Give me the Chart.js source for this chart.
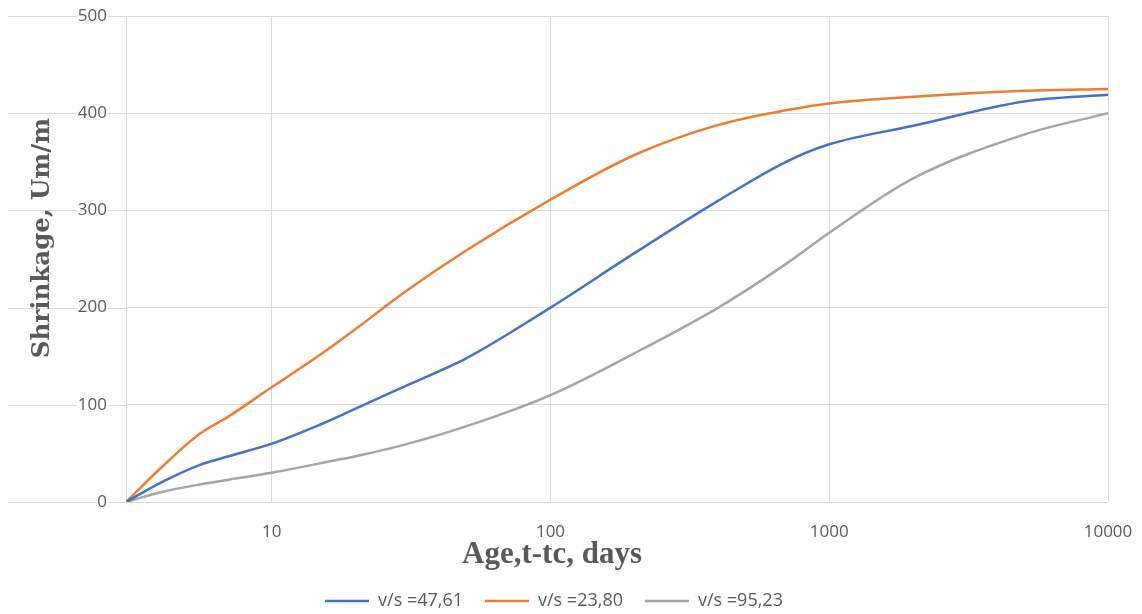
<!DOCTYPE html>
<html>
<head>
<meta charset="utf-8">
<script src="https://cdn.jsdelivr.net/npm/chart.js@4.4.1/dist/chart.umd.min.js"></script>
<style>
  html, body { margin: 0; padding: 0; background: #fff; }
  #wrap { width: 1142px; height: 614px; position: relative; }
</style>
</head>
<body>
<div id="wrap"><canvas id="c" width="1142" height="614"></canvas></div>
<script>
// Age t-tc (days)
const days = [3, 4, 5.5, 7, 10, 15, 20, 30, 50, 100, 200, 400, 700, 1000, 2000, 5000, 10000];
// Shrinkage (Um/m) per series
const vs4761 = [0, 20, 38, 47, 60, 80, 96, 119, 148, 200, 256, 310, 350, 368, 387, 412, 419];
const vs2380 = [0, 35, 70, 88, 118, 152, 178, 216, 259, 311, 357, 388, 403, 410, 417, 423, 425];
const vs9523 = [0, 10, 18, 23, 30, 40, 47, 59, 78, 110, 153, 200, 245, 277, 333, 378, 400];
const seriesNames = ['v/s =47,61', 'v/s =23,80', 'v/s =95,23'];
const xTicks = [3, 10, 100, 1000, 10000];
const yTicks = [0, 100, 200, 300, 400, 500];
const xTitle = 'Age,t-tc, days';
const yTitle = 'Shrinkage, Um/m';

const colors = ['#4472C4', '#ED7D31', '#A5A5A5'];
const toPts = arr => days.map((d, i) => ({ x: d, y: arr[i] }));

const extGrid = {
  id: 'extGrid',
  beforeDraw(chart) {
    const { ctx, chartArea, scales } = chart;
    const y = scales.y;
    ctx.save();
    ctx.strokeStyle = '#d9d9d9';
    ctx.lineWidth = 1;
    y.ticks.forEach(t => {
      const py = Math.round(y.getPixelForValue(t.value)) + 0.5;
      ctx.beginPath();
      ctx.moveTo(8, py);
      ctx.lineTo(chartArea.left, py);
      ctx.stroke();
    });
    ctx.restore();
  }
};

const titles = {
  id: 'titles',
  afterDraw(chart) {
    const { ctx, chartArea } = chart;
    ctx.save();
    ctx.fillStyle = '#595959';
    ctx.font = 'bold 31px "Liberation Serif"';
    ctx.textAlign = 'center';
    ctx.textBaseline = 'alphabetic';
    ctx.fillText(xTitle, chartArea.left + 426, chartArea.bottom + 61);
    // y title
    ctx.font = 'bold 100px "DejaVu Serif"';
    const w = ctx.measureText(yTitle).width;
    const size = 100 * 240 / w;
    ctx.font = 'bold ' + size.toFixed(1) + 'px "DejaVu Serif"';
    ctx.translate(43, chartArea.top + 222);
    ctx.rotate(-Math.PI / 2);
    ctx.textBaseline = 'middle';
    ctx.fillText(yTitle, 0, 0);
    ctx.restore();
  }
};

new Chart(document.getElementById('c'), {
  type: 'line',
  data: {
    datasets: [vs4761, vs2380, vs9523].map((arr, i) => ({
      label: seriesNames[i],
      data: toPts(arr),
      borderColor: colors[i],
      backgroundColor: colors[i],
      borderWidth: 2.5,
      pointRadius: 0,
      cubicInterpolationMode: 'monotone',
      fill: false
    }))
  },
  options: {
    responsive: false,
    animation: false,
    layout: { padding: { left: 0, right: 34, top: 16, bottom: -6 } },
    plugins: {
      tooltip: { enabled: false },
      legend: {
        position: 'bottom',
        labels: {
          usePointStyle: true,
          pointStyle: 'line',
          pointStyleWidth: 44,
          color: '#595959',
          font: { family: '"Open Sans"', size: 18 },
          padding: 22
        }
      }
    },
    scales: {
      x: {
        type: 'logarithmic',
        min: 3,
        max: 10000,
        afterBuildTicks(s) { s.ticks = xTicks.map(v => ({ value: v })); },
        afterFit(s) { s.height = 68; s.paddingLeft = 0; s.paddingRight = 0; },
        ticks: {
          autoSkip: false,
          maxRotation: 0,
          color: '#595959',
          font: { family: '"Open Sans"', size: 17 },
          padding: 20,
          callback: v => (v === 3 ? '' : String(v))
        },
        grid: { color: '#d9d9d9', drawTicks: false },
        border: { display: false }
      },
      y: {
        min: 0,
        max: 500,
        afterBuildTicks(s) { s.ticks = yTicks.map(v => ({ value: v })); },
        afterFit(s) { s.width = 126; s.paddingTop = 0; s.paddingBottom = 0; },
        ticks: {
          color: '#595959',
          font: { family: '"Open Sans"', size: 17 },
          padding: 19,
          showLabelBackdrop: true,
          backdropColor: '#ffffff',
          backdropPadding: 1
        },
        grid: { color: '#d9d9d9', drawTicks: false },
        border: { display: false }
      }
    }
  },
  plugins: [extGrid, titles]
});
</script>
</body>
</html>
